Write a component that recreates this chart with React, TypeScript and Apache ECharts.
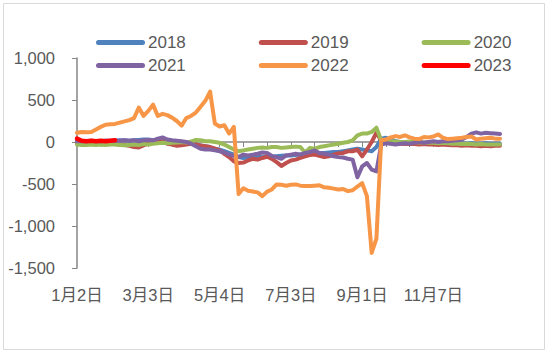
import React, { useEffect, useRef } from "react";
import * as echarts from "echarts";

const categories: string[] = [
  "1月2日", "1月6日", "1月10日", "1月14日", "1月18日", "1月22日", "1月26日", "1月30日", "2月3日", "2月7日",
  "2月11日", "2月15日", "2月19日", "2月23日", "2月27日", "3月3日", "3月7日", "3月11日", "3月15日", "3月19日",
  "3月23日", "3月27日", "3月31日", "4月4日", "4月8日", "4月12日", "4月16日", "4月20日", "4月24日", "4月28日",
  "5月4日", "5月8日", "5月12日", "5月16日", "5月20日", "5月24日", "5月28日", "6月1日", "6月5日", "6月9日",
  "6月13日", "6月17日", "6月21日", "6月25日", "6月29日", "7月3日", "7月7日", "7月11日", "7月15日", "7月19日",
  "7月23日", "7月27日", "7月31日", "8月4日", "8月8日", "8月12日", "8月16日", "8月20日", "8月24日", "8月28日",
  "9月1日", "9月5日", "9月9日", "9月13日", "9月17日", "9月21日", "9月25日", "9月29日", "10月9日", "10月13日",
  "10月17日", "10月21日", "10月25日", "10月29日", "11月2日", "11月7日", "11月11日", "11月15日", "11月19日", "11月23日",
  "11月27日", "12月1日", "12月5日", "12月9日", "12月13日", "12月17日", "12月21日", "12月25日", "12月29日", "12月31日",
];

const seriesNames: string[] = ["2018", "2019", "2020", "2021", "2022", "2023"];
const seriesColors: string[] = ["#4F81BD", "#C0504D", "#9BBB59", "#8064A2", "#F79646", "#FF0000"];

const y2018: (number | null)[] = [
  0, 5, 10, 10, 5, 10, 15, 10, 15, 20,
  20, 15, 20, 25, 30, 30, 20, 15, 10, 5,
  0, -5, -10, -10, -20, -30, -40, -50, -60, -80,
  -90, -110, -130, -150, -180, -190, -185, -180, -175, -180,
  -170, -175, -170, -165, -160, -160, -155, -150, -150, -140,
  -135, -130, -130, -125, -120, -120, -110, -100, -90, -80,
  -90, -100, -110, -60, 40, 50, 30, 10, 0, 0,
  -5, -5, -10, -10, -5, -10, -10, -15, -15, -10,
  -15, -15, -20, -15, -20, -20, -15, -20, -20, -20,
];

const y2019: (number | null)[] = [
  -20, -20, -25, -20, -15, -20, -25, -20, -25, -30,
  -35, -45, -60, -65, -40, -20, -10, 0, 10, -20,
  -30, -45, -40, -30, -20, -30, -40, -50, -60, -80,
  -100, -140, -180, -230, -250, -245, -220, -200, -210, -190,
  -175, -200, -240, -285, -250, -220, -210, -190, -170, -155,
  -150, -165, -180, -170, -150, -135, -130, -110, -110, -90,
  -170, -90, 0, 110, 20, -10, -15, -20, -20, -25,
  -20, -25, -30, -25, -30, -30, -35, -30, -35, -40,
  -40, -45, -40, -45, -45, -50, -45, -50, -45, -45,
];

const y2020: (number | null)[] = [
  -30, -35, -35, -30, -35, -30, -35, -30, -30, -35,
  -40, -35, -30, -35, -25, -30, -20, -15, -10, -15,
  -10, -5, 0, -5, 5, 25, 20, 10, 10, 0,
  -10, -30, -60, -90, -110, -100, -90, -80, -70, -65,
  -70, -60, -60, -70, -65, -60, -55, -60, -125, -70,
  -80, -60, -50, -40, -30, -20, -10, 0, 20, 80,
  100, 100, 120, 170, 20, 10, 10, 5, 0, 0,
  5, 0, -5, -5, -10, -10, -15, -10, -15, -20,
  -20, -25, -20, -25, -30, -25, -30, -30, -30, -30,
];

const y2021: (number | null)[] = [
  10, 10, 10, 15, 10, 10, 15, 15, 15, 15,
  20, 15, 20, 10, 20, 25, 20, 40, 55, 30,
  20, 15, 10, 0, -20, -50, -80, -90, -90, -100,
  -110, -125, -150, -165, -180, -150, -160, -150, -140, -125,
  -130, -165, -180, -200, -160, -150, -140, -150, -130, -120,
  -100, -130, -140, -150, -170, -180, -185, -200, -210, -420,
  -290, -250, -330, -350, -30, -15, -20, -30, -20, -15,
  -20, -10, 0, -10, 0, 10, 0, 10, 10, 15,
  20, 30, 60, 100, 115, 100, 110, 105, 100, 95,
];

const y2022: (number | null)[] = [
  110, 120, 115, 120, 150, 180, 205, 210, 215, 230,
  245, 260, 285, 410, 310, 370, 445, 310, 335, 320,
  290, 250, 195, 285, 310, 350, 420, 490, 600, 220,
  185, 200, 100, 180, -620, -550, -580, -590, -600, -645,
  -590, -565, -505, -510, -520, -510, -505, -520, -525, -525,
  -520, -515, -540, -545, -555, -565, -560, -585, -575, -530,
  -490, -645, -1320, -1150, 20, 30, 55, 70, 60, 80,
  55, 40, 35, 60, 55, 65, 90, 50, 35, 40,
  45, 50, 60, 65, 30, 40, 45, 50, 40, 40,
];

const y2023: (number | null)[] = [
  40, 15, 10, 15, 10, 15, 10, 15, 20, null,
  null, null, null, null, null, null, null, null, null, null,
  null, null, null, null, null, null, null, null, null, null,
  null, null, null, null, null, null, null, null, null, null,
  null, null, null, null, null, null, null, null, null, null,
  null, null, null, null, null, null, null, null, null, null,
  null, null, null, null, null, null, null, null, null, null,
  null, null, null, null, null, null, null, null, null, null,
  null, null, null, null, null, null, null, null, null, null,
];

const allData = [y2018, y2019, y2020, y2021, y2022, y2023];

const yMin = -1500;
const yMax = 1000;
const yStep = 500;

const textColor = "#595959";
const axisColor = "#868686";
const fontFamily = "'Liberation Sans', 'Noto Sans CJK SC', sans-serif";
const legendIcon =
  "path://M2.5,0 L46.5,0 A2.5,2.5 0 0 1 46.5,5 L2.5,5 A2.5,2.5 0 0 1 2.5,0 Z";

export default function App() {
  const ref = useRef<HTMLDivElement>(null);

  useEffect(() => {
    if (!ref.current) return;
    const chart = echarts.init(ref.current, undefined, { renderer: "svg" });

    const legendCommon = {
      left: 96,
      padding: 0,
      itemWidth: 49,
      itemHeight: 5,
      itemGap: 73,
      icon: legendIcon,
      textStyle: { color: textColor, fontSize: 17, fontFamily, padding: [0, 0, 0, -2] },
      selectedMode: false,
    };

    chart.setOption({
      animation: false,
      backgroundColor: "#ffffff",
      textStyle: { fontFamily },
      graphic: [
        {
          type: "rect",
          shape: { x: 3.5, y: 3.5, width: 541, height: 346 },
          style: { fill: "none", stroke: "#d9d9d9", lineWidth: 1 },
          silent: true,
        },
      ],
      legend: [
        { ...legendCommon, top: 34, data: seriesNames.slice(0, 3) },
        { ...legendCommon, top: 57, data: seriesNames.slice(3, 6) },
      ],
      grid: { left: 77, right: 50, top: 58, bottom: 86, containLabel: false },
      xAxis: [
        {
          type: "category",
          data: categories,
          boundaryGap: false,
          position: "bottom",
          axisLine: { show: true, onZero: true, lineStyle: { color: axisColor, width: 1.5 } },
          axisTick: { show: true, interval: 4, length: 5, lineStyle: { color: axisColor, width: 1 } },
          axisLabel: { show: false },
          splitLine: { show: false },
        },
        {
          type: "category",
          data: categories,
          boundaryGap: false,
          position: "bottom",
          axisLine: { show: false, onZero: false },
          axisTick: { show: false },
          axisLabel: {
            show: true,
            interval: 14,
            margin: 19,
            color: textColor,
            fontSize: 16.5,
            fontFamily,
          },
          splitLine: { show: false },
        },
      ],
      yAxis: {
        type: "value",
        min: yMin,
        max: yMax,
        interval: yStep,
        axisLine: { show: true, lineStyle: { color: axisColor, width: 1.5 } },
        axisTick: { show: true, length: 5, lineStyle: { color: axisColor } },
        splitLine: { show: false },
        axisLabel: {
          margin: 22,
          color: textColor,
          fontSize: 16.5,
          fontFamily,
          formatter: (v: number) => v.toLocaleString("en-US"),
        },
      },
      series: seriesNames.map((name, i) => ({
        name,
        type: "line",
        xAxisIndex: 0,
        data: allData[i],
        showSymbol: false,
        symbol: "none",
        connectNulls: false,
        color: seriesColors[i],
        itemStyle: { color: seriesColors[i] },
        lineStyle: { color: seriesColors[i], width: i === 5 ? 4.5 : 4, cap: "round", join: "round" },
      })),
    });

    return () => chart.dispose();
  }, []);

  return (
    <div
      ref={ref}
      style={{ position: "fixed", left: 0, top: 0, width: 550, height: 354, background: "#fff" }}
    />
  );
}
